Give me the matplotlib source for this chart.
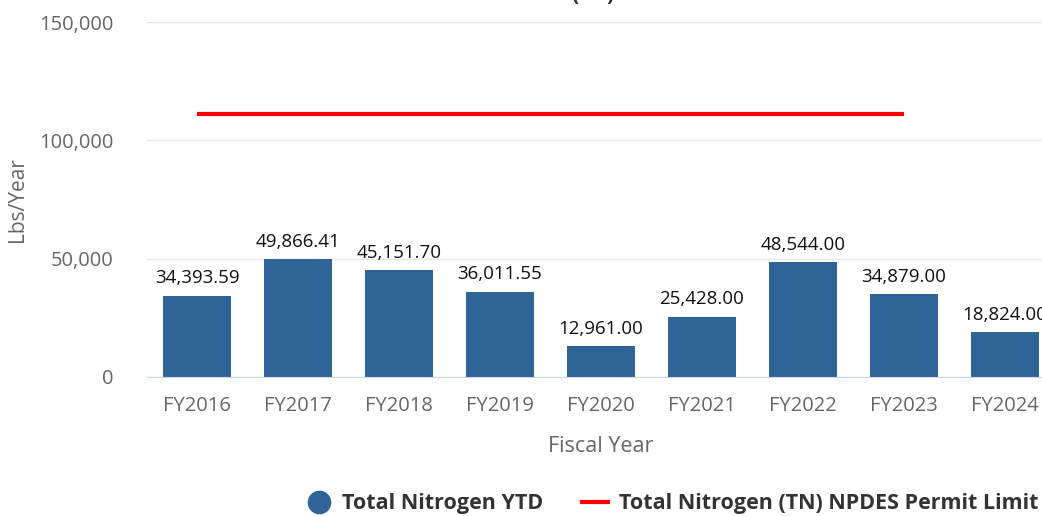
#!/usr/bin/env python3
# Total Nitrogen YTD vs NPDES permit limit
import matplotlib.pyplot as plt
from matplotlib.lines import Line2D

plt.rcParams["font.family"] = ["Open Sans", "DejaVu Sans"]

years = ["FY2016", "FY2017", "FY2018", "FY2019", "FY2020",
         "FY2021", "FY2022", "FY2023", "FY2024"]
tn_ytd = [34393.59, 49866.41, 45151.70, 36011.55, 12961.00,
          25428.00, 48544.00, 34879.00, 18824.00]
permit_years = years[:8]
permit_limit = [111000] * 8

BAR = "#2f6496"
GRID = "#e6e6e6"
TICK = "#666666"

fig = plt.figure(figsize=(10.42, 5.16), dpi=100)
# plot area runs past the right edge, as in the cropped original
ax = fig.add_axes([146.5 / 1042, 139 / 516, 909 / 1042, 355 / 516])

x = list(range(len(years)))
bars = ax.bar(x, tn_ytd, width=0.67, color=BAR, zorder=2)
ax.plot([years.index(y) for y in permit_years], permit_limit,
        color="#ff0000", linewidth=3, zorder=3, solid_capstyle="butt")

for rect, v in zip(bars, tn_ytd):
    ax.annotate(f"{v:,.2f}", (rect.get_x() + rect.get_width() / 2, v),
                xytext=(0, 6), textcoords="offset points",
                ha="center", va="bottom", fontsize=13.5, color="#111111",
                annotation_clip=False)

ax.set_xlim(-0.5, len(years) - 0.5)
ax.set_ylim(0, 150000)
ax.set_yticks([0, 50000, 100000, 150000])
ax.set_yticklabels(["0", "50,000", "100,000", "150,000"])
ax.set_xticks(x)
ax.set_xticklabels(years)
ax.tick_params(axis="both", length=0, labelsize=14.5, colors=TICK)
ax.tick_params(axis="x", pad=14)
ax.tick_params(axis="y", pad=24)
ax.grid(axis="y", color=GRID, linewidth=1, zorder=0)
for s in ["top", "right", "left"]:
    ax.spines[s].set_visible(False)
ax.spines["bottom"].set_color("#ccd6eb")

ax.set_xlabel("Fiscal Year", fontsize=15.5, color=TICK, labelpad=14)
ax.set_ylabel("Lbs/Year", fontsize=15, color=TICK, labelpad=8)

# title is mostly cut off at the top of the image
fig.text(593 / 1042, 511 / 516, "Total Nitrogen\n(TN)", ha="center",
         va="bottom", fontsize=15, fontweight="bold", color="#333333")

handles = [
    Line2D([], [], marker="o", linestyle="none", markersize=16,
           color=BAR, label="Total Nitrogen YTD"),
    Line2D([], [], color="#ff0000", linewidth=3,
           label="Total Nitrogen (TN) NPDES Permit Limit"),
]
fig.legend(handles=handles, loc="center", ncol=2, frameon=False,
           bbox_to_anchor=(672 / 1042, 12 / 516),
           prop={"weight": "bold", "size": 15.5}, handlelength=1.2,
           columnspacing=1.8, handletextpad=0.5, labelcolor="#333333")

fig.savefig("out.png", dpi=100)
